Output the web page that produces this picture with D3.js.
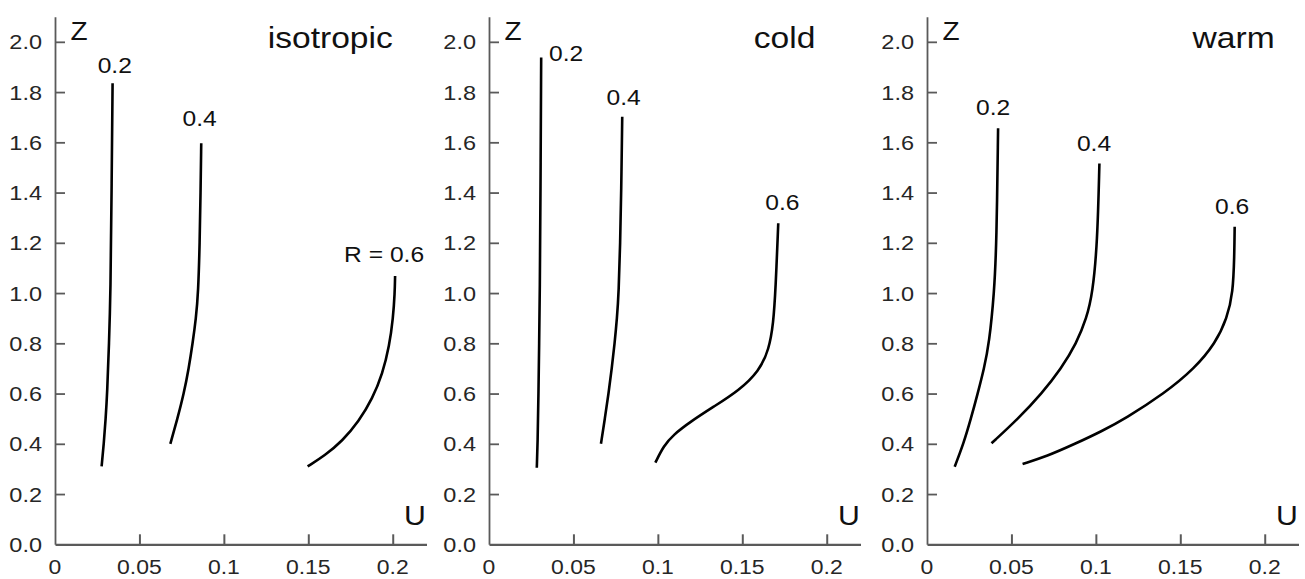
<!DOCTYPE html>
<html>
<head>
<meta charset="utf-8">
<script src="https://cdn.jsdelivr.net/npm/d3@7"></script>
<style>
  html, body { margin: 0; padding: 0; background: #fff; }
  svg { display: block; font-family: "Liberation Sans", Arial, sans-serif; }
</style>
</head>
<body>
<svg id="chart" width="1305" height="579"></svg>
<script>
// ---------- data ----------
const panelTitles = ["isotropic", "cold", "warm"];
const uTicks = [0, 0.05, 0.1, 0.15, 0.2];
const uTickLabels = ["0", "0.05", "0.1", "0.15", "0.2"];
const zTicks = [0, 0.2, 0.4, 0.6, 0.8, 1.0, 1.2, 1.4, 1.6, 1.8, 2.0];
const zTickLabels = ["0.0", "0.2", "0.4", "0.6", "0.8", "1.0", "1.2", "1.4", "1.6", "1.8", "2.0"];

// isotropic: [U, Z]
const isoR02 = [[0.0276,0.31],[0.0289,0.40],[0.0300,0.50],[0.0309,0.60],[0.0320,0.80],[0.0329,1.00],[0.0335,1.40],[0.0341,1.835]];
const isoR04 = [[0.0683,0.40],[0.0725,0.50],[0.0763,0.60],[0.0792,0.70],[0.0815,0.80],[0.0835,0.90],[0.0848,1.00],[0.0857,1.20],[0.0862,1.40],[0.0866,1.596]];
const isoR06 = [[0.1496,0.31],[0.1600,0.355],[0.1700,0.41],[0.1800,0.49],[0.1880,0.58],[0.1940,0.68],[0.1980,0.79],[0.2002,0.90],[0.2012,1.00],[0.2014,1.068]];
// cold
const coldR02 = [[0.0283,0.305],[0.0288,0.40],[0.0293,0.60],[0.0297,0.80],[0.0301,1.00],[0.0305,1.40],[0.0309,1.938]];
const coldR04 = [[0.0663,0.40],[0.0686,0.50],[0.0708,0.60],[0.0727,0.70],[0.0744,0.80],[0.0758,0.90],[0.0768,1.00],[0.0777,1.20],[0.0783,1.40],[0.0789,1.702]];
const coldR06 = [[0.0985,0.325],[0.1035,0.392],[0.1090,0.435],[0.1193,0.488],[0.1331,0.548],[0.1480,0.612],[0.1600,0.690],[0.1658,0.775],[0.1684,0.880],[0.1697,1.012],[0.1713,1.278]];
// warm
const warmR02 = [[0.0164,0.309],[0.0216,0.40],[0.0260,0.50],[0.0300,0.60],[0.0338,0.70],[0.0368,0.80],[0.0398,1.00],[0.0412,1.20],[0.0421,1.656]];
const warmR04 = [[0.0382,0.402],[0.0540,0.50],[0.0679,0.60],[0.0795,0.70],[0.0885,0.80],[0.0945,0.90],[0.0981,1.00],[0.1009,1.20],[0.1021,1.516]];
const warmR06 = [[0.0566,0.32],[0.0709,0.35],[0.0877,0.40],[0.1035,0.45],[0.1173,0.50],[0.1405,0.60],[0.1585,0.70],[0.1708,0.80],[0.1777,0.90],[0.1812,1.00],[0.1820,1.15],[0.1822,1.264]];

const panelSeries = [[isoR02, isoR04, isoR06], [coldR02, coldR04, coldR06], [warmR02, warmR04, warmR06]];

// curve labels: text and anchor [U, Z]
const isoLabels = ["0.2", "0.4", "R = 0.6"];
const isoLabelPos = [[0.0354,1.908],[0.0856,1.697],[0.1949,1.155]];
const coldLabels = ["0.2", "0.4", "0.6"];
const coldLabelPos = [[0.0457,1.954],[0.0797,1.781],[0.1737,1.364]];
const warmLabels = ["0.2", "0.4", "0.6"];
const warmLabelPos = [[0.0392,1.742],[0.0989,1.596],[0.1807,1.346]];
const panelLabels = [isoLabels, coldLabels, warmLabels];
const panelLabelPos = [isoLabelPos, coldLabelPos, warmLabelPos];
const titlePos = [[0.163, 2.02], [0.175, 2.02], [0.1816, 2.02]];

// ---------- layout ----------
const svg = d3.select("#chart");
svg.append("rect").attr("width", 1305).attr("height", 579).attr("fill", "#fff");

const panelLeft = [55, 489, 927];
const plotW = 371.5;
const yBottom = 544.3, yTop = 16.7;
const axisColor = "#5a5a5a";
const textColor = "#262626";
const SX = 1.12;

function addText(g, x, y, t, size, anchor, fill) {
  return g.append("text")
    .attr("transform", `translate(${x},${y}) scale(${SX},1)`)
    .attr("dy", "0.36em")
    .attr("text-anchor", anchor)
    .attr("font-size", size)
    .attr("fill", fill)
    .text(t);
}

panelTitles.forEach((title, i) => {
  const x = d3.scaleLinear().domain([0, 0.22]).range([panelLeft[i], panelLeft[i] + plotW]);
  const y = d3.scaleLinear().domain([0, 2.1]).range([yBottom, yTop]);
  const g = svg.append("g");

  // x axis
  const xAxis = d3.axisBottom(x).tickValues(uTicks.filter(d => d > 0))
    .tickSize(-10).tickSizeOuter(0).tickFormat("");
  const gx = g.append("g").attr("transform", `translate(0,${yBottom})`).call(xAxis);
  gx.select(".domain").attr("stroke", axisColor).attr("stroke-width", 2.2);
  gx.selectAll(".tick line").attr("stroke", axisColor).attr("stroke-width", 2);
  uTicks.forEach((d, k) => addText(g, x(d), 566.5, uTickLabels[k], 20.5, "middle", textColor));

  // y axis
  const yAxis = d3.axisLeft(y).tickValues(zTicks.filter(d => d > 0))
    .tickSize(-10).tickSizeOuter(0).tickFormat("");
  const gy = g.append("g").attr("transform", `translate(${panelLeft[i]},0)`).call(yAxis);
  gy.select(".domain").attr("stroke", axisColor).attr("stroke-width", 1.8);
  gy.selectAll(".tick line").attr("stroke", axisColor).attr("stroke-width", 1.8);
  zTicks.forEach((d, k) => addText(g, panelLeft[i] - 13, y(d), zTickLabels[k], 21, "end", textColor));

  // axis names
  addText(g, panelLeft[i] + 24, 31, "Z", 25, "middle", "#111");
  addText(g, panelLeft[i] + 360, 515, "U", 27, "middle", "#111");

  // title
  addText(g, x(titlePos[i][0]), 37, title, 30, "middle", "#111");

  // curves
  const line = d3.line().x(d => x(d[0])).y(d => y(d[1])).curve(d3.curveBasis);
  panelSeries[i].forEach(s => {
    g.append("path").datum(s).attr("d", line)
      .attr("fill", "none").attr("stroke", "#000").attr("stroke-width", 2.6)
      .attr("stroke-linecap", "butt");
  });

  // curve labels
  panelLabels[i].forEach((t, k) => {
    const p = panelLabelPos[i][k];
    addText(g, x(p[0]), y(p[1]), t, 22, "middle", "#111");
  });
});
</script>
</body>
</html>
